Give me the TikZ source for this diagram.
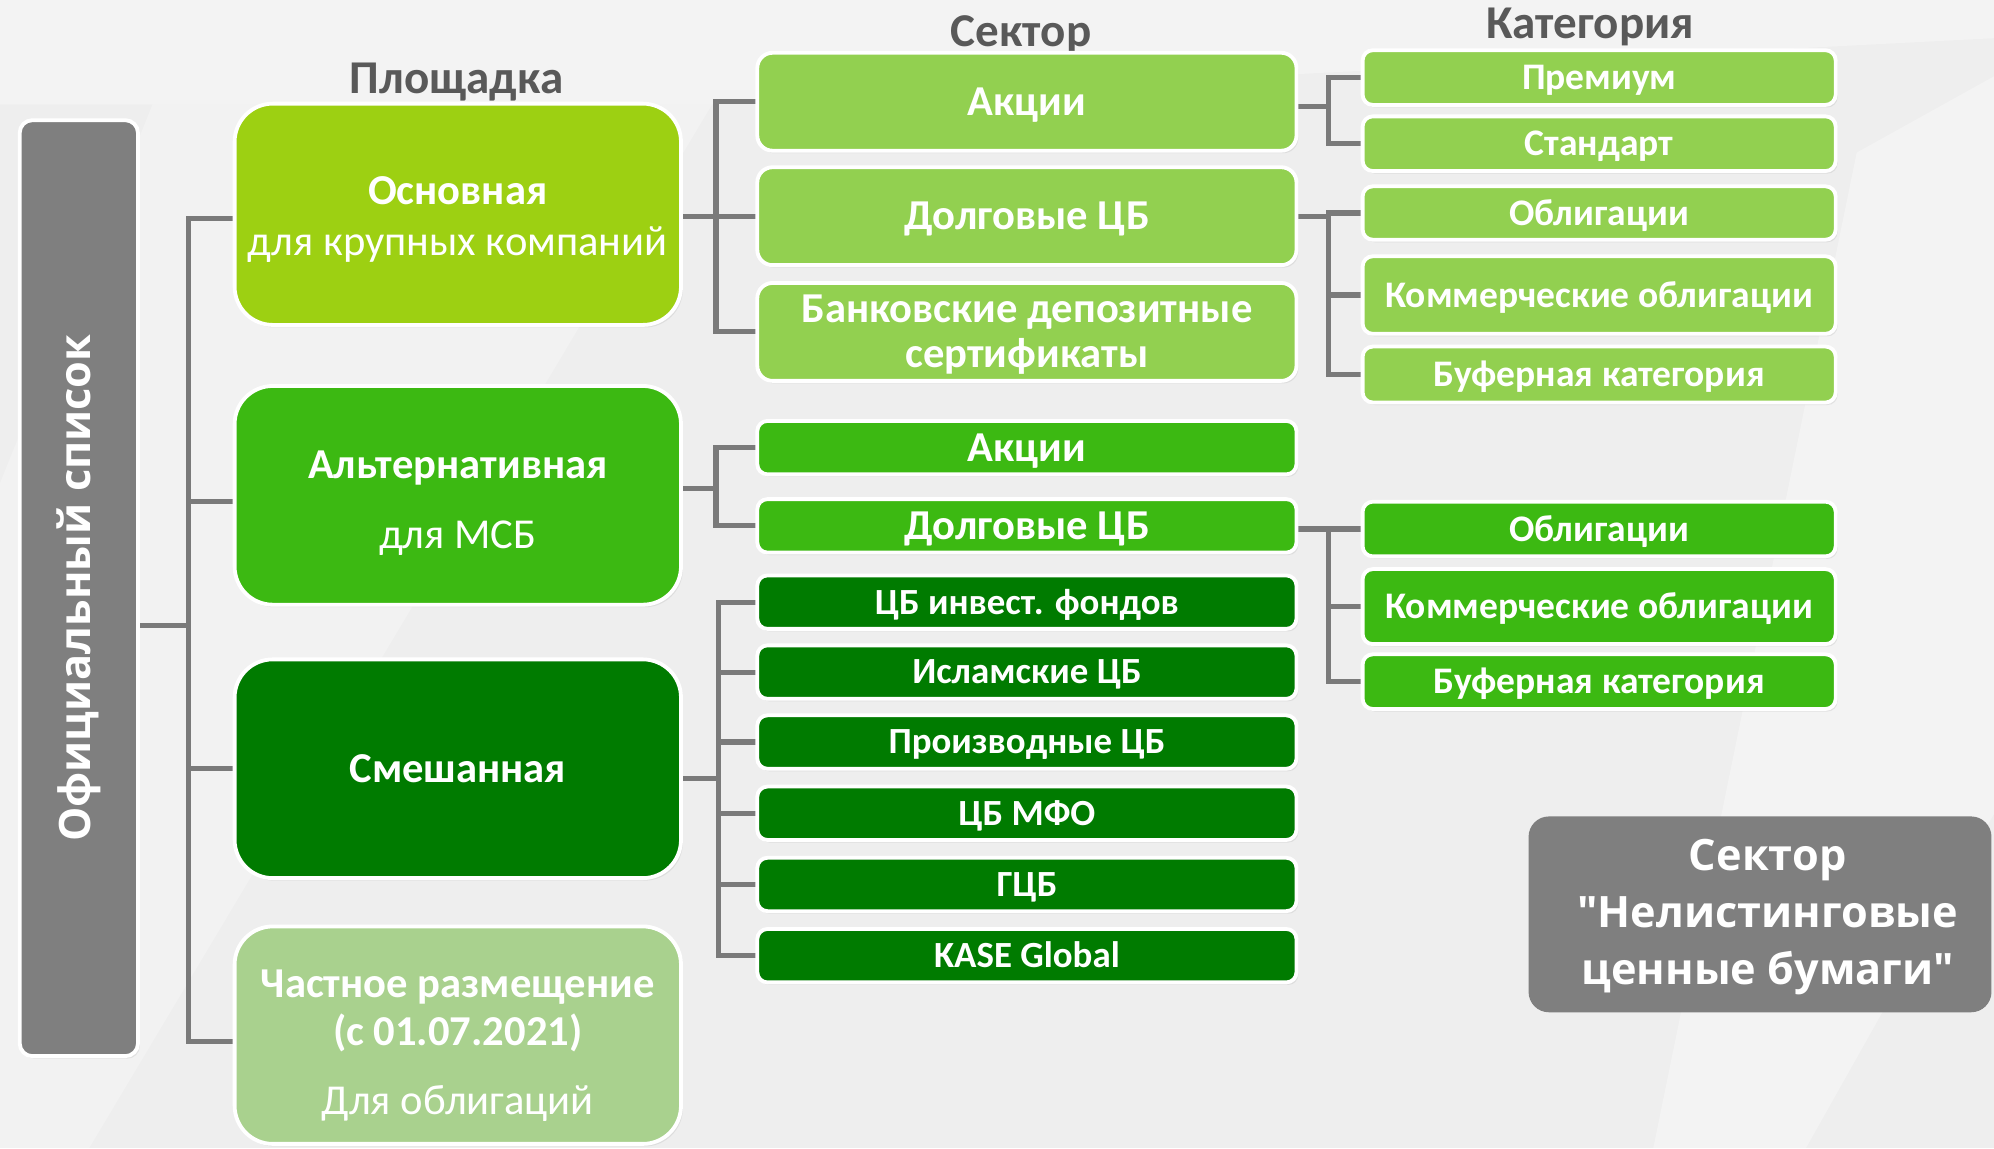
\documentclass[tikz,border=0pt]{standalone}
\usepackage{fontspec}
\setmainfont{Carlito}
\newfontfamily\osans{Open Sans}
\usetikzlibrary{shadows}
\pgfdeclarelayer{bglayer}
\pgfdeclarelayer{lines}
\pgfsetlayers{bglayer,lines,main}
\newcommand\toppad[1]{\rule{0pt}{#1}}
\definecolor{bg}{HTML}{EEEEEE}
\definecolor{hdr}{HTML}{595959}
\definecolor{gry}{HTML}{7F7F7F}
\definecolor{osnC}{HTML}{9DD012}
\definecolor{secC}{HTML}{92D050}
\definecolor{altC}{HTML}{3CB912}
\definecolor{dkC}{HTML}{007B00}
\definecolor{chC}{HTML}{A9D18E}
\definecolor{lnC}{HTML}{7A7A7A}
\begin{document}
\begin{tikzpicture}[x=1pt,y=-1pt,
  conn/.style={draw=lnC, line width=4pt, line cap=rect},
  card/.style={rectangle, draw=white, line width=3pt, text=white, inner sep=0pt, align=center,
    drop shadow={shadow xshift=1.5pt, shadow yshift=-2pt, opacity=0.15}},
  wh/.style 2 args={minimum width=#1pt, minimum height=#2pt},
  onel/.style={text height=#1, text depth=0pt},
  plat/.style={card, wh={351}{#1}, rounded corners=30pt, font=\fontsize{33.5}{40}\selectfont},
  secbig/.style={card, fill=secC, wh={424}{77}, rounded corners=12pt, font=\bfseries\fontsize{33.5}{36}\selectfont},
  secsm/.style={card, fill=#1, wh={424}{42}, rounded corners=8pt, onel=21.6pt, font=\bfseries\fontsize{33.5}{36}\selectfont},
  secdk/.style={card, fill=dkC, wh={424}{42}, rounded corners=8pt, onel=18.7pt, font=\bfseries\fontsize{29}{34}\selectfont},
  cat/.style 2 args={card, fill=#1, wh={372}{#2}, rounded corners=8pt, onel=19pt, font=\bfseries\fontsize{29.5}{34}\selectfont},
  hdrtext/.style={text=hdr, font=\bfseries\fontsize{37}{42}\selectfont, inner sep=0pt, anchor=base}
]
% background
\begin{pgfonlayer}{bglayer}
\fill[bg] (0,0) rectangle (1568,903);
\fill[white, opacity=0.35] (0,0) -- (1568,0) -- (1568,30) -- (560,82) -- (0,82) -- cycle;
\fill[white, opacity=0.25] (120,82) -- (560,82) -- (70,903) -- (0,903) -- (0,380) -- cycle;
\fill[white, opacity=0.30] (1460,120) -- (1568,60) -- (1568,640) -- (1420,903) -- (1300,903) -- cycle;
\end{pgfonlayer}

% headers
\node[hdrtext] (hPlat) at (359,73.4) {Площадка};
\node[hdrtext] (hSec) at (803,36.7) {Сектор};
\node[hdrtext] (hCat) at (1250.5,30.1) {Категория};

% official list
\node[card, fill=gry, wh={93}{736}, rounded corners=10pt] (off) at (62,462.5)
  {\rotatebox{90}{\osans\bfseries\fontsize{34}{40}\selectfont Официальный список}};

% platforms
\node[plat={174}, fill=osnC] (osn) at (360,168.5) {\toppad{30pt}{\bfseries Основная}\\для крупных компаний};
\node[plat={172}, fill=altC] (alt) at (360,389.5) {\toppad{34pt}{\bfseries Альтернативная}\\[15pt]для МСБ};
\node[plat={172}, fill=dkC, onel=21.6pt] (sme) at (360,604.5) {\bfseries Смешанная};
\node[plat={171}, fill=chC] (chas) at (360,814) {\toppad{38pt}{\bfseries Частное размещение}\\[-2pt]{\bfseries (с 01.07.2021)}\\[14pt]Для облигаций};

% sectors
\node[secbig, onel=21.6pt] (s1) at (807.5,80) {Акции};
\node[secbig, onel=21.6pt] (s2) at (807.5,170) {Долговые ЦБ};
\node[secbig] (s3) at (807.5,261) {\toppad{26pt}Банковские депозитные\\сертификаты};
\node[secsm=altC] (s4) at (807.5,352) {Акции};
\node[secsm=altC] (s5) at (807.5,413.5) {Долговые ЦБ};
\node[secdk] (s6) at (807.5,473.5) {ЦБ инвест. фондов};
\node[secdk] (s7) at (807.5,528.5) {Исламские ЦБ};
\node[secdk] (s8) at (807.5,583.5) {Производные ЦБ};
\node[secdk] (s9) at (807.5,639.5) {ЦБ МФО};
\node[secdk] (s10) at (807.5,695.5) {ГЦБ};
\node[secdk] (s11) at (807.5,751.5) {KASE Global};

% categories
\node[cat={secC}{43}] (c1) at (1257.5,61) {Премиум};
\node[cat={secC}{43}] (c2) at (1257.5,113) {Стандарт};
\node[cat={secC}{42}] (c3) at (1257.5,167.5) {Облигации};
\node[cat={secC}{61}] (c4) at (1257.5,232) {Коммерческие облигации};
\node[cat={secC}{44}] (c5) at (1257.5,294.5) {Буферная категория};
\node[cat={altC}{43}] (c6) at (1257.5,416) {Облигации};
\node[cat={altC}{59}] (c7) at (1257.5,477) {Коммерческие облигации};
\node[cat={altC}{43}] (c8) at (1257.5,536) {Буферная категория};

% non-listing sector
\node[rectangle, fill=gry, wh={364}{154}, rounded corners=16pt, text=white, align=center, inner sep=0pt,
  font=\osans\bfseries\fontsize{34}{45}\selectfont] (nel) at (1384,719)
  {\toppad{28.5pt}\hspace*{12pt}Сектор\\\hspace*{12pt}"Нелистинговые\\\hspace*{12pt}ценные бумаги"};

% connectors
\begin{pgfonlayer}{lines}
\coordinate (j0) at (148,492);
\coordinate (b1) at ([yshift=-3pt]osn.west);
\coordinate (b2) at ([yshift=-5pt]alt.west);
\coordinate (b3) at (sme.west);
\coordinate (b4) at ([yshift=-5pt]chas.west);
\draw[conn] (off.east |- j0) -- (j0);
\draw[conn] (j0 |- b1) -- (j0 |- b4);
\foreach \b in {b1,b2,b3,b4} \draw[conn] (j0 |- \b) -- (\b);

\coordinate (j1) at (563,171);
\draw[conn] (osn.east |- s2.west) -- (s2.west);
\draw[conn] (j1 |- s1.west) -- (j1 |- s3.west);
\draw[conn] (j1 |- s1.west) -- (s1.west);
\draw[conn] (j1 |- s3.west) -- (s3.west);

\coordinate (j2) at (563,384);
\draw[conn] (alt.east |- j2) -- (j2);
\draw[conn] (j2 |- s4.west) -- (j2 |- s5.west);
\foreach \s in {s4,s5} \draw[conn] (j2 |- \s.west) -- (\s.west);

\coordinate (j3) at (565,612);
\draw[conn] (sme.east |- j3) -- (j3);
\draw[conn] (j3 |- s6.west) -- (j3 |- s11.west);
\foreach \s in {s6,s7,s8,s9,s10,s11} \draw[conn] (j3 |- \s.west) -- (\s.west);

\coordinate (k1) at (1045,84);
\draw[conn] (s1.east |- k1) -- (k1);
\draw[conn] (k1 |- c1.west) -- (k1 |- c2.west);
\foreach \c in {c1,c2} \draw[conn] (k1 |- \c.west) -- (\c.west);

\coordinate (k2) at (1045,170);
\draw[conn] (s2.east) -- (k2 |- s2.east);
\draw[conn] (k2 |- c3.west) -- (k2 |- c5.west);
\foreach \c in {c3,c4,c5} \draw[conn] (k2 |- \c.west) -- (\c.west);

\coordinate (k3) at (1045,416);
\draw[conn] (s5.east |- k3) -- (k3);
\draw[conn] (k3 |- c6.west) -- (k3 |- c8.west);
\foreach \c in {c6,c7,c8} \draw[conn] (k3 |- \c.west) -- (\c.west);
\end{pgfonlayer}

\useasboundingbox (0,0) rectangle (1568,903);
\end{tikzpicture}
\end{document}
